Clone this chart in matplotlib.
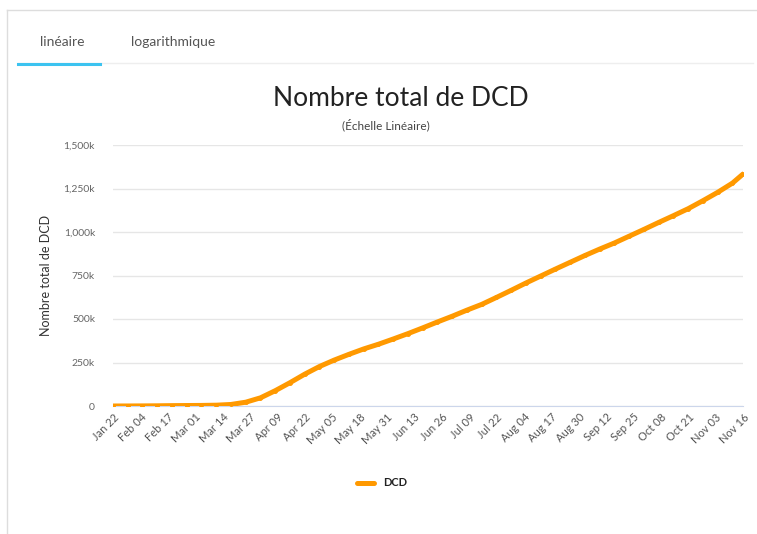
import datetime as dt
import matplotlib
matplotlib.use("Agg")
import matplotlib.pyplot as plt
from matplotlib.ticker import FuncFormatter

# weekly cumulative deaths (plus the last day)
dates = ["2020-01-22", "2020-01-29", "2020-02-05", "2020-02-12", "2020-02-19",
         "2020-02-26", "2020-03-04", "2020-03-11", "2020-03-18", "2020-03-25",
         "2020-04-01", "2020-04-08", "2020-04-15", "2020-04-22", "2020-04-29",
         "2020-05-06", "2020-05-13", "2020-05-20", "2020-05-27", "2020-06-03",
         "2020-06-10", "2020-06-17", "2020-06-24", "2020-07-01", "2020-07-08",
         "2020-07-15", "2020-07-22", "2020-07-29", "2020-08-05", "2020-08-12",
         "2020-08-19", "2020-08-26", "2020-09-02", "2020-09-09", "2020-09-16",
         "2020-09-23", "2020-09-30", "2020-10-07", "2020-10-14", "2020-10-21",
         "2020-10-28", "2020-11-04", "2020-11-11", "2020-11-16"]
deaths = [17, 133, 565, 1118, 2122, 2770, 3280, 4600, 8800, 21800,
          47000, 88000, 134000, 183000, 227000, 264000, 297000, 328000,
          355000, 385000, 416000, 449000, 483000, 516000, 551000, 584000,
          624000, 665000, 707000, 747000, 787000, 826000, 865000, 902000,
          937000, 976000, 1015000, 1055000, 1094000, 1134000, 1180000,
          1228000, 1281000, 1333000]
tick_labels = ["Jan 22", "Feb 04", "Feb 17", "Mar 01", "Mar 14", "Mar 27",
               "Apr 09", "Apr 22", "May 05", "May 18", "May 31", "Jun 13",
               "Jun 26", "Jul 09", "Jul 22", "Aug 04", "Aug 17", "Aug 30",
               "Sep 12", "Sep 25", "Oct 08", "Oct 21", "Nov 03", "Nov 16"]
y_ticks = [0, 250000, 500000, 750000, 1000000, 1250000, 1500000]

W, H = 757, 534
plt.rcParams['font.family'] = ['Lato', 'DejaVu Sans']
fig = plt.figure(figsize=(W / 100, H / 100), dpi=100)

x = [dt.datetime.strptime(d, "%Y-%m-%d") for d in dates]
start = x[0]
tick_pos = [start + dt.timedelta(days=13 * i) for i in range(len(tick_labels))]

# plot area in pixels: left 113, right 743, top 145, bottom 406
ax = fig.add_axes([113 / W, 1 - 406 / H, (743 - 113) / W, (406 - 145) / H])
ax.plot(x, deaths, color="#ff9900", lw=3.6, marker="o", ms=2.5,
        solid_capstyle="round", label="DCD", zorder=3)
ax.set_xlim(start, x[-1])
ax.set_ylim(0, 1500000)
ax.set_yticks(y_ticks)
ax.yaxis.set_major_formatter(FuncFormatter(
    lambda v, p: "0" if v == 0 else "{:,.0f}k".format(v / 1000)))
ax.set_xticks(tick_pos)
ax.set_xticklabels(tick_labels, rotation=45, ha="right", rotation_mode="anchor")
ax.tick_params(axis="x", length=0, labelsize=8, labelcolor="#555555", pad=4)
ax.tick_params(axis="y", length=0, labelsize=7.5, labelcolor="#666666", pad=13)
ax.grid(axis="y", color="#e6e6e6", lw=1)
ax.set_axisbelow(True)
for s in ["top", "right", "left"]:
    ax.spines[s].set_visible(False)
ax.spines["bottom"].set_color("#ccd6eb")
ax.set_ylabel("Nombre total de DCD", fontsize=9, color="#333333", labelpad=8)

leg = ax.legend(loc="center", bbox_to_anchor=(382 / W, 1 - 483 / H),
                bbox_transform=fig.transFigure, frameon=False,
                prop={"weight": "bold", "size": 8}, handlelength=1.5,
                borderaxespad=0, handletextpad=0.8)
leg.get_texts()[0].set_color("#222222")

# titles
fig.text(401 / W, 1 - 98 / H, "Nombre total de DCD", ha="center", va="center",
         fontsize=19, color="#222222")
fig.text(386 / W, 1 - 125 / H, "(Échelle Linéaire)", ha="center", va="center",
         fontsize=8.5, color="#444444")

# tab header
fig.text(62 / W, 1 - 42 / H, "linéaire", ha="center", va="center",
         fontsize=10, color="#555555")
fig.text(173 / W, 1 - 42 / H, "logarithmique", ha="center", va="center",
         fontsize=10, color="#555555")
fig.add_artist(plt.Line2D([18 / W, 753 / W], [1 - 63 / H, 1 - 63 / H],
                          color="#eeeeee", lw=1))
fig.add_artist(plt.Line2D([18 / W, 100 / W], [1 - 64 / H, 1 - 64 / H],
                          color="#3cc3f0", lw=2.2))
# frame lines
fig.add_artist(plt.Line2D([7 / W, 7 / W], [0, 1 - 10 / H], color="#dddddd", lw=1))
fig.add_artist(plt.Line2D([7 / W, 1], [1 - 10 / H, 1 - 10 / H], color="#dddddd", lw=1))

fig.savefig("out.png", dpi=100)
